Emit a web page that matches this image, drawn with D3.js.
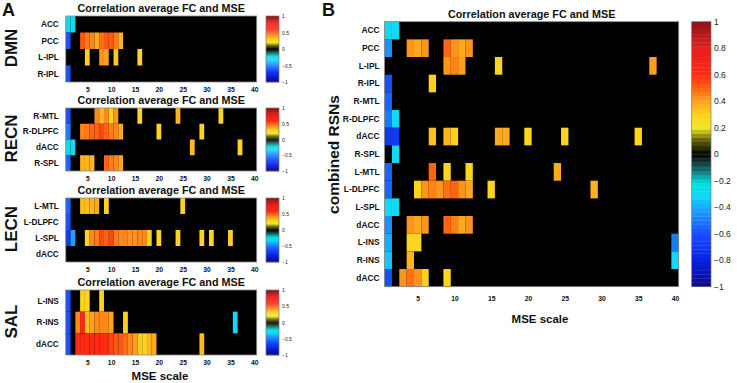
<!DOCTYPE html>
<html>
<head>
<meta charset="utf-8">
<script src="https://cdn.jsdelivr.net/npm/d3@7"></script>
<style>
  body { margin: 0; background: #fff; }
  text { font-family: "Liberation Sans", Arial, sans-serif; }
</style>
</head>
<body>
<div id="chart"></div>
<script>
// MSE scales 1..40 on the x axis
const mseScales = d3.range(1, 41);
const mseTicks = [5, 10, 15, 20, 25, 30, 35, 40];
const barTicksA = [1, 0.5, 0, -0.5, -1];
const barTicksB = [1, 0.8, 0.6, 0.4, 0.2, 0, -0.2, -0.4, -0.6, -0.8, -1];

// colormap (value -> colour)
const cmapValues = [-1, -0.8, -0.6, -0.45, -0.32, -0.22, -0.12, -0.04, 0, 0.04, 0.12, 0.2, 0.3, 0.4, 0.5, 0.6, 0.8, 1];
const cmapColors = ["#0a0a80", "#0a20e0", "#1650ff", "#1e90ff", "#10d8f8", "#00e0e0", "#1a7070", "#0c2626", "#000000",
  "#262608", "#707010", "#f0e820", "#ffd21e", "#ffa01e", "#ff6414", "#ff2a14", "#e61e1e", "#8c1414"];

// each run: [row index, first MSE scale, values of consecutive scales]
const dmnRows = ["ACC", "PCC", "L-IPL", "R-IPL"];
const dmnRuns = [
  [0, 1, [-0.28, -0.3]],
  [1, 1, [-0.6]],
  [1, 4, [0.52, 0.46, 0.44, 0.38, 0.48, 0.52, 0.52, 0.46, 0.36]],
  [2, 5, [0.3]], [2, 8, [0.42, 0.4]], [2, 11, [0.32]], [2, 16, [0.28]],
  [3, 1, [-0.6]]
];

const recnRows = ["R-MTL", "R-DLPFC", "dACC", "R-SPL"];
const recnRuns = [
  [0, 1, [-0.6]], [0, 7, [0.44, 0.34, 0.44, 0.3, 0.42]], [0, 16, [0.28]], [0, 24, [0.36]], [0, 33, [0.28]],
  [1, 1, [-0.5]], [1, 4, [0.44, 0.46, 0.5, 0.5, 0.55, 0.5, 0.46, 0.44, 0.38]], [1, 20, [0.28]], [1, 29, [0.28]],
  [2, 1, [-0.3, -0.3]], [2, 27, [0.34]], [2, 37, [0.28]],
  [3, 1, [-0.55]], [3, 4, [0.36, 0.36, 0.36]], [3, 9, [0.5, 0.46, 0.44, 0.38]]
];

const lecnRows = ["L-MTL", "L-DLPFC", "L-SPL", "dACC"];
const lecnRuns = [
  [0, 1, [-0.55]], [0, 4, [0.34, 0.34, 0.36, 0.38]], [0, 9, [0.3]], [0, 25, [0.3]],
  [1, 1, [-0.6]],
  [2, 1, [-0.7, -0.42]], [2, 5, [0.3, 0.44, 0.46, 0.55, 0.5, 0.55, 0.46, 0.44, 0.44, 0.42, 0.42, 0.44, 0.44, 0.3]],
  [2, 20, [0.28]], [2, 24, [0.3]], [2, 29, [0.28]], [2, 31, [0.28]], [2, 35, [0.3]]
];

const salRows = ["L-INS", "R-INS", "dACC"];
const salRuns = [
  [0, 1, [-0.6]], [0, 4, [0.3, 0.3]], [0, 8, [0.3]],
  [1, 1, [-0.6]], [1, 3, [0.44, 0.6, 0.34, 0.4, 0.44, 0.44, 0.44, 0.4]], [1, 13, [0.3]], [1, 36, [-0.32]],
  [2, 1, [-0.6]], [2, 3, [0.6, 0.6, 0.6, 0.6, 0.6, 0.6, 0.6, 0.56, 0.52, 0.52, 0.48, 0.44, 0.4, 0.32, 0.3, 0.36, 0.38]],
  [2, 29, [0.34]]
];

const combinedRows = ["ACC", "PCC", "L-IPL", "R-IPL", "R-MTL", "R-DLPFC", "dACC", "R-SPL",
  "L-MTL", "L-DLPFC", "L-SPL", "dACC", "L-INS", "R-INS", "dACC"];
const combinedRuns = [
  [0, 1, [-0.28, -0.3]],
  [1, 1, [-0.45]], [1, 4, [0.42, 0.38, 0.42]], [1, 9, [0.5, 0.42, 0.38, 0.42]],
  [2, 9, [0.42, 0.45, 0.4]], [2, 16, [0.28]], [2, 37, [0.4]],
  [3, 1, [-0.6]], [3, 7, [0.3]],
  [4, 1, [-0.55]],
  [5, 1, [-0.5, -0.3]],
  [6, 1, [-0.7, -0.7]], [6, 7, [0.34]], [6, 9, [0.36, 0.3]], [6, 16, [0.38, 0.38]], [6, 20, [0.28]], [6, 25, [0.28]], [6, 35, [0.3]],
  [7, 2, [-0.3]],
  [8, 1, [-0.55]], [8, 7, [0.5]], [8, 9, [0.3]], [8, 12, [0.3]], [8, 24, [0.38]],
  [9, 1, [-0.55]], [9, 5, [0.3, 0.42, 0.45, 0.42, 0.48, 0.5, 0.42, 0.38]], [9, 15, [0.3]], [9, 29, [0.36]],
  [10, 1, [-0.3, -0.3]],
  [11, 1, [-0.45]], [11, 4, [0.42, 0.38, 0.42]], [11, 9, [0.5, 0.45, 0.38, 0.42]],
  [12, 1, [-0.4]], [12, 4, [0.28, 0.28]], [12, 40, [-0.5]],
  [13, 1, [-0.35]], [13, 4, [0.36]], [13, 40, [-0.3]],
  [14, 1, [-0.6]], [14, 3, [0.42, 0.48, 0.42, 0.3]], [14, 9, [0.3]]
];

const W = 737, H = 383;
const svg = d3.select("#chart").append("svg")
  .attr("width", W)
  .attr("height", H);

const color = d3.scaleLinear()
  .domain(cmapValues)
  .range(cmapColors)
  .clamp(true);

function flatten(runs) {
  const cells = [];
  runs.forEach(([r, start, vals]) => {
    vals.forEach((v, i) => cells.push({ row: r, scale: start + i, value: v }));
  });
  return cells;
}

function drawHeatmap(box, rows, runs, opt) {
  const g = svg.append("g");
  const x = d3.scaleLinear().domain([0.5, 40.5]).range([box.x0, box.x1]);
  const y = d3.scaleBand().domain(d3.range(rows.length)).range([box.y0, box.y1]);

  g.append("rect")
    .attr("x", box.x0).attr("y", box.y0)
    .attr("width", box.x1 - box.x0).attr("height", box.y1 - box.y0)
    .attr("fill", "#000");

  g.selectAll(".cell")
    .data(flatten(runs))
    .enter().append("rect")
    .attr("class", "cell")
    .attr("x", d => x(d.scale - 0.5))
    .attr("y", d => y(d.row))
    .attr("width", x(1.5) - x(0.5))
    .attr("height", y.bandwidth())
    .attr("fill", d => color(d.value));

  g.append("rect")
    .attr("x", box.x0).attr("y", box.y0)
    .attr("width", box.x1 - box.x0).attr("height", box.y1 - box.y0)
    .attr("fill", "none")
    .attr("stroke", "#8a8a8a")
    .attr("stroke-width", 0.8);

  // x axis
  const xAxisG = g.append("g")
    .attr("transform", `translate(0,${box.y1})`)
    .call(d3.axisBottom(x).tickValues(mseTicks).tickSize(0).tickPadding(opt.tickPad));
  xAxisG.select(".domain").remove();
  xAxisG.selectAll("text")
    .attr("font-size", opt.tickFont)
    .attr("font-weight", "bold")
    .attr("fill", "#111");

  // row labels
  g.selectAll(".rowlab")
    .data(rows)
    .enter().append("text")
    .attr("class", "rowlab")
    .attr("x", box.x0 - opt.labelGap)
    .attr("y", (d, i) => y(i) + y.bandwidth() / 2)
    .attr("dy", "0.35em")
    .attr("text-anchor", "end")
    .attr("font-size", opt.rowFont)
    .attr("font-weight", "bold")
    .attr("fill", "#111")
    .text(d => d);

  // title
  g.append("text")
    .attr("x", (box.x0 + box.x1) / 2)
    .attr("y", box.y0 - opt.titleGap)
    .attr("text-anchor", "middle")
    .attr("font-size", opt.titleFont)
    .attr("font-weight", "bold")
    .attr("fill", "#111")
    .text("Correlation average FC and MSE");
}

function drawColorbar(box, ticks, fontSize, fmt) {
  const g = svg.append("g");
  const y = d3.scaleLinear().domain([-1, 1]).range([box.y1, box.y0]);
  const levels = d3.range(64).map(i => -1 + (i + 0.5) * 2 / 64);
  g.selectAll(".lvl")
    .data(levels)
    .enter().append("rect")
    .attr("x", box.x0)
    .attr("y", d => y(d + 1 / 64))
    .attr("width", box.x1 - box.x0)
    .attr("height", y(-1) - y(-1 + 2 / 64) + 0.3)
    .attr("fill", d => color(d));
  g.append("rect")
    .attr("x", box.x0).attr("y", box.y0)
    .attr("width", box.x1 - box.x0).attr("height", box.y1 - box.y0)
    .attr("fill", "none")
    .attr("stroke", "#777")
    .attr("stroke-width", 0.7);
  const axisG = g.append("g")
    .attr("transform", `translate(${box.x1},0)`)
    .call(d3.axisRight(y).tickValues(ticks).tickSize(0).tickPadding(3).tickFormat(fmt));
  axisG.select(".domain").remove();
  axisG.selectAll("text")
    .attr("font-size", fontSize)
    .attr("fill", "#222");
}

// ----- panel A -----
const optA = { tickFont: 6.8, tickPad: 5, rowFont: 8.2, labelGap: 7, titleFont: 10.8, titleGap: 3.8 };
const panelsA = [
  { name: "DMN", rows: dmnRows, runs: dmnRuns, y0: 16, y1: 82 },
  { name: "RECN", rows: recnRows, runs: recnRuns, y0: 108, y1: 171 },
  { name: "LECN", rows: lecnRows, runs: lecnRuns, y0: 198, y1: 262 },
  { name: "SAL", rows: salRows, runs: salRuns, y0: 290, y1: 355 }
];
panelsA.forEach(p => {
  drawHeatmap({ x0: 65.8, x1: 256.7, y0: p.y0, y1: p.y1 }, p.rows, p.runs, optA);
  drawColorbar({ x0: 266, x1: 279, y0: p.y0, y1: p.y1 }, barTicksA, 5, d3.format(""));
  svg.append("text")
    .attr("transform", `translate(17,${(p.y0 + p.y1) / 2 - 1}) rotate(-90)`)
    .attr("text-anchor", "middle")
    .attr("font-size", 17)
    .attr("font-weight", "bold")
    .attr("fill", "#111")
    .text(p.name);
});

svg.append("text")
  .attr("x", 160).attr("y", 380)
  .attr("text-anchor", "middle")
  .attr("font-size", 11.5)
  .attr("font-weight", "bold")
  .attr("fill", "#111")
  .text("MSE scale");

// ----- panel B -----
const boxB = { x0: 384.6, x1: 678.7, y0: 21.7, y1: 286.7 };
drawHeatmap(boxB, combinedRows, combinedRuns,
  { tickFont: 6.8, tickPad: 9, rowFont: 8.4, labelGap: 5, titleFont: 10.8, titleGap: 4 });
drawColorbar({ x0: 691.7, x1: 711, y0: 21.7, y1: 286.7 }, barTicksB, 8.5, d3.format(""));

svg.append("text")
  .attr("transform", `translate(338.5,154.5) rotate(-90)`)
  .attr("text-anchor", "middle")
  .attr("font-size", 15.5)
  .attr("font-weight", "bold")
  .attr("fill", "#111")
  .text("combined RSNs");

svg.append("text")
  .attr("x", 540).attr("y", 323)
  .attr("text-anchor", "middle")
  .attr("font-size", 11.5)
  .attr("font-weight", "bold")
  .attr("fill", "#111")
  .text("MSE scale");

// panel letters
svg.append("text").attr("x", 2).attr("y", 16)
  .attr("font-size", 18).attr("font-weight", "bold").attr("fill", "#111").text("A");
svg.append("text").attr("x", 322).attr("y", 16)
  .attr("font-size", 18).attr("font-weight", "bold").attr("fill", "#111").text("B");
</script>
</body>
</html>
